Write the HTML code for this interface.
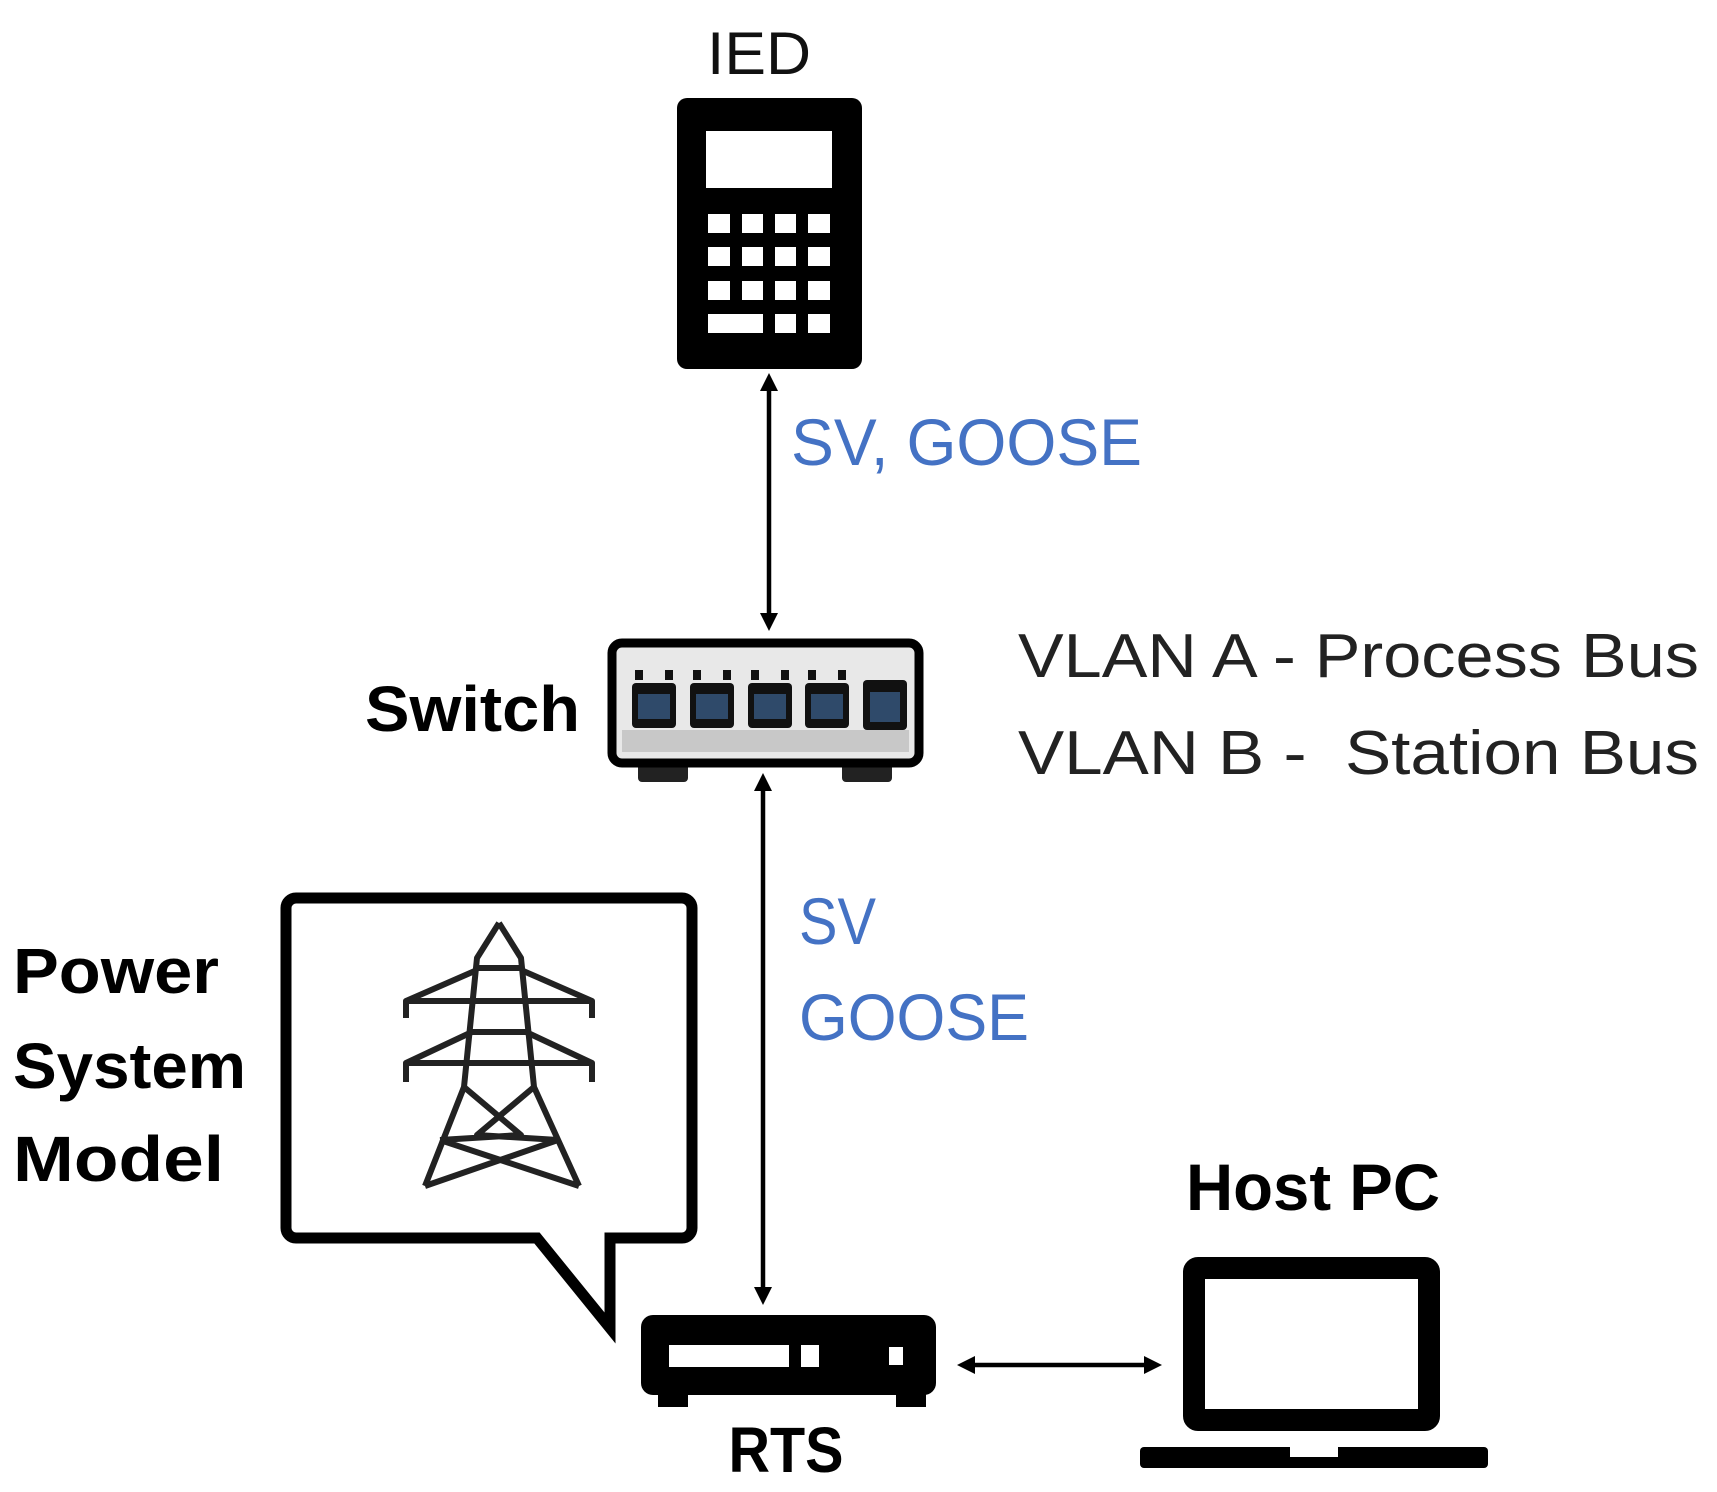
<!DOCTYPE html>
<html><head><meta charset="utf-8"><style>
html,body{margin:0;padding:0;background:#fff;}
svg{display:block;}
text{font-family:"Liberation Sans",sans-serif;}
</style></head><body>
<svg width="1717" height="1492" viewBox="0 0 1717 1492" xmlns="http://www.w3.org/2000/svg">
<defs>
<marker id="ah" markerWidth="4" markerHeight="4" refX="2" refY="2" orient="auto-start-reverse" markerUnits="strokeWidth"><path d="M0,0 L4,2 L0,4 z" fill="#000"/></marker>
</defs>
<!-- IED -->
<text x="759" y="74" font-size="60" text-anchor="middle" textLength="104" lengthAdjust="spacingAndGlyphs" fill="#111">IED</text>
<rect x="677" y="98" width="185" height="271" rx="10" fill="#000"/>
<rect x="706" y="131" width="126" height="57" fill="#fff"/>
<g fill="#fff">
<rect x="708" y="214" width="22" height="19"/><rect x="742" y="214" width="21" height="19"/><rect x="775" y="214" width="21" height="19"/><rect x="808" y="214" width="22" height="19"/>
<rect x="708" y="247" width="22" height="19"/><rect x="742" y="247" width="21" height="19"/><rect x="775" y="247" width="21" height="19"/><rect x="808" y="247" width="22" height="19"/>
<rect x="708" y="281" width="22" height="19"/><rect x="742" y="281" width="21" height="19"/><rect x="775" y="281" width="21" height="19"/><rect x="808" y="281" width="22" height="19"/>
<rect x="708" y="314" width="55" height="19"/><rect x="775" y="314" width="21" height="19"/><rect x="808" y="314" width="22" height="19"/>
</g>
<!-- arrows -->
<line x1="769" y1="382" x2="769" y2="622" stroke="#000" stroke-width="4.5" marker-start="url(#ah)" marker-end="url(#ah)"/>
<line x1="763" y1="782" x2="763" y2="1296" stroke="#000" stroke-width="4.5" marker-start="url(#ah)" marker-end="url(#ah)"/>
<line x1="966" y1="1365" x2="1153" y2="1365" stroke="#000" stroke-width="4.5" marker-start="url(#ah)" marker-end="url(#ah)"/>
<!-- blue labels -->
<text x="791" y="465" font-size="66" fill="#4472c4" textLength="351" lengthAdjust="spacingAndGlyphs">SV, GOOSE</text>
<text x="799" y="944" font-size="66" fill="#4472c4" textLength="77" lengthAdjust="spacingAndGlyphs">SV</text>
<text x="799" y="1040" font-size="66" fill="#4472c4" textLength="230" lengthAdjust="spacingAndGlyphs">GOOSE</text>
<!-- switch -->
<text x="365" y="731" font-size="64" font-weight="bold" textLength="215" lengthAdjust="spacingAndGlyphs">Switch</text>
<rect x="638" y="758" width="50" height="24" rx="4" fill="#222"/>
<rect x="842" y="758" width="50" height="24" rx="4" fill="#222"/>
<rect x="612" y="643" width="307" height="120" rx="10" fill="#e8e8e8" stroke="#000" stroke-width="9"/>
<rect x="622" y="730" width="287" height="22" fill="#c8c8c8"/>
<g fill="#111">
<rect x="632" y="683" width="44" height="45" rx="4"/><rect x="690" y="683" width="44" height="45" rx="4"/><rect x="748" y="683" width="44" height="45" rx="4"/><rect x="805" y="683" width="44" height="45" rx="4"/><rect x="863" y="680" width="44" height="50" rx="4"/>
<rect x="635" y="670" width="8" height="10"/><rect x="665" y="670" width="8" height="10"/><rect x="693" y="670" width="8" height="10"/><rect x="723" y="670" width="8" height="10"/><rect x="751" y="670" width="8" height="10"/><rect x="781" y="670" width="8" height="10"/><rect x="808" y="670" width="8" height="10"/><rect x="838" y="670" width="8" height="10"/>
</g>
<g fill="#2f4a6a">
<rect x="638" y="694" width="32" height="25"/><rect x="696" y="694" width="32" height="25"/><rect x="754" y="694" width="32" height="25"/><rect x="811" y="694" width="32" height="25"/><rect x="870" y="692" width="30" height="30"/>
</g>
<!-- VLAN text -->
<text x="1018" y="677" font-size="62" fill="#222" textLength="681" lengthAdjust="spacingAndGlyphs">VLAN A - Process Bus</text>
<text x="1018" y="774" font-size="62" fill="#222" textLength="681" lengthAdjust="spacingAndGlyphs" xml:space="preserve">VLAN B -  Station Bus</text>
<!-- Power System Model -->
<text x="13" y="993" font-size="64" font-weight="bold" textLength="206" lengthAdjust="spacingAndGlyphs">Power</text>
<text x="13" y="1088" font-size="64" font-weight="bold" textLength="233" lengthAdjust="spacingAndGlyphs">System</text>
<text x="13" y="1181" font-size="64" font-weight="bold" textLength="211" lengthAdjust="spacingAndGlyphs">Model</text>
<!-- callout -->
<path d="M296,898 H682 a10,10 0 0 1 10,10 V1228 a10,10 0 0 1 -10,10 H610 V1328 L537,1238 H296 a10,10 0 0 1 -10,-10 V908 a10,10 0 0 1 10,-10 Z" fill="#fff" stroke="#000" stroke-width="11" stroke-linejoin="miter"/>
<!-- tower -->
<g fill="none" stroke="#222" stroke-width="6" stroke-linejoin="round">
<path d="M499,923 L477,958 L464,1087 L425,1186 M499,923 L521,958 L534,1087 L579,1186"/>
<path d="M477,968 H521 M406,1018 V1001 L477,970 M592,1018 V1001 L521,970 M406,1001 H592"/>
<path d="M406,1082 V1063 L472,1032 M592,1082 V1063 L526,1032 M470,1032 H528 M406,1063 H592"/>
<path d="M464,1087 L521,1135 L440,1140 M534,1087 L477,1135 L558,1140 M440,1140 L579,1186 M558,1140 L425,1186"/>
</g>
<!-- RTS -->
<rect x="641" y="1315" width="295" height="80" rx="12" fill="#000"/>
<rect x="658" y="1385" width="30" height="22" fill="#000"/>
<rect x="896" y="1385" width="30" height="22" fill="#000"/>
<rect x="669" y="1345" width="120" height="22" fill="#fff"/>
<rect x="801" y="1345" width="18" height="22" fill="#fff"/>
<rect x="889" y="1347" width="14" height="18" fill="#fff"/>
<text x="786" y="1472" font-size="64" font-weight="bold" text-anchor="middle" textLength="115" lengthAdjust="spacingAndGlyphs">RTS</text>
<!-- laptop -->
<text x="1186" y="1210" font-size="66" font-weight="bold" textLength="254" lengthAdjust="spacingAndGlyphs">Host PC</text>
<rect x="1194" y="1268" width="235" height="152" rx="4" fill="#fff" stroke="#000" stroke-width="22"/>
<rect x="1140" y="1447" width="348" height="21" rx="4" fill="#000"/>
<rect x="1290" y="1447" width="48" height="10" fill="#fff"/>
</svg>
</body></html>
